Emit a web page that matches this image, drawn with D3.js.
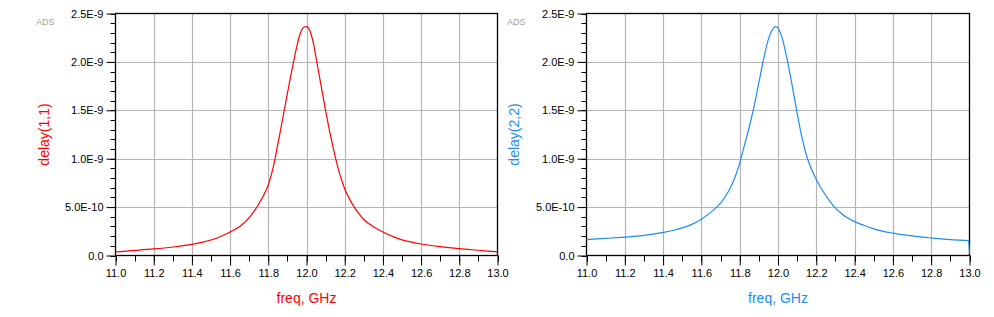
<!DOCTYPE html>
<html>
<head>
<meta charset="utf-8">
<script src="https://cdn.jsdelivr.net/npm/d3@7"></script>
<style>
  html, body { margin: 0; padding: 0; background: #fff; }
  svg { display: block; }
  text { font-family: Arial, "Liberation Sans", sans-serif; }
</style>
</head>
<body>
<svg id="chart" width="994" height="317"></svg>
<script>
// ---- data (delay values in units of 1E-9 s) ----
const freq11 = [11.00, 11.10, 11.20, 11.30, 11.40, 11.45, 11.50, 11.55, 11.60, 11.65, 11.70, 11.725, 11.75,
  11.775, 11.80, 11.8125, 11.825, 11.8375, 11.85, 11.875, 11.90, 11.925, 11.95, 11.9625, 11.975, 11.9875,
  12.00, 12.0125, 12.025, 12.0375, 12.05, 12.075, 12.10, 12.125, 12.15, 12.1625, 12.175, 12.1875, 12.20,
  12.225, 12.25, 12.275, 12.30, 12.35, 12.40, 12.45, 12.50, 12.55, 12.60, 12.70, 12.80, 12.90, 13.00];
const delay11 = [0.037, 0.052, 0.068, 0.088, 0.115, 0.135, 0.160, 0.196, 0.242, 0.300, 0.392, 0.455, 0.532,
  0.620, 0.730, 0.810, 0.905, 1.020, 1.150, 1.410, 1.675, 1.930, 2.165, 2.265, 2.330, 2.360,
  2.365, 2.345, 2.280, 2.180, 2.045, 1.770, 1.500, 1.245, 1.025, 0.925, 0.835, 0.760, 0.690,
  0.585, 0.500, 0.430, 0.372, 0.296, 0.243, 0.198, 0.162, 0.138, 0.119, 0.092, 0.071, 0.054, 0.037];

const freq22 = [11.00, 11.10, 11.20, 11.30, 11.40, 11.45, 11.50, 11.55, 11.60, 11.65, 11.70, 11.725, 11.75,
  11.775, 11.80, 11.825, 11.85, 11.875, 11.90, 11.925, 11.95, 11.9625, 11.975, 11.9875, 12.00, 12.0125,
  12.025, 12.0375, 12.05, 12.075, 12.10, 12.125, 12.15, 12.175, 12.20, 12.225, 12.25, 12.275, 12.30,
  12.325, 12.35, 12.40, 12.45, 12.50, 12.55, 12.60, 12.70, 12.80, 12.90, 12.995, 13.00];
const delay22 = [0.165, 0.177, 0.189, 0.207, 0.238, 0.258, 0.285, 0.322, 0.375, 0.448, 0.540, 0.610, 0.695,
  0.805, 0.955, 1.140, 1.330, 1.540, 1.785, 2.030, 2.235, 2.300, 2.345, 2.365, 2.352, 2.300,
  2.225, 2.120, 2.005, 1.745, 1.470, 1.220, 1.025, 0.890, 0.785, 0.695, 0.620, 0.548, 0.490,
  0.445, 0.405, 0.350, 0.310, 0.275, 0.250, 0.232, 0.203, 0.181, 0.163, 0.155, 0.020];

const xTicks = [11.0, 11.2, 11.4, 11.6, 11.8, 12.0, 12.2, 12.4, 12.6, 12.8, 13.0];
const xTickLabels = ["11.0", "11.2", "11.4", "11.6", "11.8", "12.0", "12.2", "12.4", "12.6", "12.8", "13.0"];
const yTicks = [0, 0.5e-9, 1.0e-9, 1.5e-9, 2.0e-9, 2.5e-9];
const yTickLabels = ["0.0", "5.0E-10", "1.0E-9", "1.5E-9", "2.0E-9", "2.5E-9"];

const panels = [
  { freq: freq11, delay: delay11, yLabel: "delay(1,1)", xLabel: "freq, GHz", color: "#ff0000",
    left: 115.5, right: 497.5, adsX: 36, yLabelX: 44 },
  { freq: freq22, delay: delay22, yLabel: "delay(2,2)", xLabel: "freq, GHz", color: "#1e8cf0",
    left: 586.5, right: 969.5, adsX: 507, yLabelX: 514 }
];

const svg = d3.select("#chart");
const plotTop = 13.5, plotBottom = 255.5;

panels.forEach(p => {
  const x = d3.scaleLinear().domain([11, 13]).range([p.left, p.right]);
  const y = d3.scaleLinear().domain([0, 2.5e-9]).range([plotBottom, plotTop]);
  const g = svg.append("g");

  // ADS tag
  g.append("text").attr("x", p.adsX).attr("y", 25).attr("font-size", 9).attr("fill", "#a0a0a0").text("ADS");

  // grid
  g.append("g").selectAll("line").data(xTicks.slice(1, -1)).join("line")
    .attr("x1", d => Math.round(x(d)) + 0.5).attr("x2", d => Math.round(x(d)) + 0.5)
    .attr("y1", plotTop).attr("y2", plotBottom).attr("stroke", "#b4b4b4").attr("stroke-width", 1.2);
  g.append("g").selectAll("line").data(yTicks.slice(1, -1)).join("line")
    .attr("y1", d => Math.round(y(d)) + 0.5).attr("y2", d => Math.round(y(d)) + 0.5)
    .attr("x1", p.left).attr("x2", p.right).attr("stroke", "#b4b4b4").attr("stroke-width", 1.2);

  // minor ticks
  const xMinor = d3.range(0, 21).map(i => 11 + i * 0.1);
  const yMinor = d3.range(0, 26).map(i => i * 1e-10);
  g.append("g").selectAll("line").data(xMinor).join("line")
    .attr("x1", d => Math.round(x(d)) + 0.5).attr("x2", d => Math.round(x(d)) + 0.5)
    .attr("y1", plotBottom).attr("y2", plotBottom + 6).attr("stroke", "#000");
  g.append("g").selectAll("line").data(yMinor).join("line")
    .attr("y1", d => Math.round(y(d)) + 0.5).attr("y2", d => Math.round(y(d)) + 0.5)
    .attr("x1", p.left - 5).attr("x2", p.left).attr("stroke", "#000");

  // axes via d3
  const xAxis = d3.axisBottom(x).tickValues(xTicks).tickFormat((d, i) => xTickLabels[i]).tickSize(10).tickPadding(4);
  const xa = g.append("g").attr("transform", `translate(0,${plotBottom})`).call(xAxis);
  const yAxis = d3.axisLeft(y).tickValues(yTicks).tickFormat((d, i) => yTickLabels[i]).tickSize(9).tickPadding(3);
  const ya = g.append("g").attr("transform", `translate(${p.left},0)`).call(yAxis);
  [xa, ya].forEach(a => {
    a.select(".domain").remove();
    a.selectAll("line").attr("stroke", "#000");
    a.selectAll("text").attr("font-size", 11).attr("fill", "#000")
      .attr("font-family", "Arial, 'Liberation Sans', sans-serif");
  });

  // frame
  g.append("rect").attr("x", p.left).attr("y", plotTop).attr("width", p.right - p.left).attr("height", plotBottom - plotTop)
    .attr("fill", "none").attr("stroke", "#000").attr("stroke-width", 1.3);

  // curve
  const pts = p.freq.map((f, i) => [f, p.delay[i] * 1e-9]);
  g.append("path").datum(pts)
    .attr("d", d3.line().x(d => x(d[0])).y(d => y(d[1])).curve(d3.curveMonotoneX))
    .attr("fill", "none").attr("stroke", p.color).attr("stroke-width", 1.2);

  // labels
  g.append("text").attr("x", (p.left + p.right) / 2).attr("y", 303).attr("text-anchor", "middle")
    .attr("font-size", 14).attr("fill", p.color).text(p.xLabel);
  g.append("text").attr("transform", `translate(${p.yLabelX},${(plotTop + plotBottom) / 2}) rotate(-90)`)
    .attr("text-anchor", "middle").attr("dominant-baseline", "central")
    .attr("font-size", 14).attr("fill", p.color).text(p.yLabel);
});
</script>
</body>
</html>
